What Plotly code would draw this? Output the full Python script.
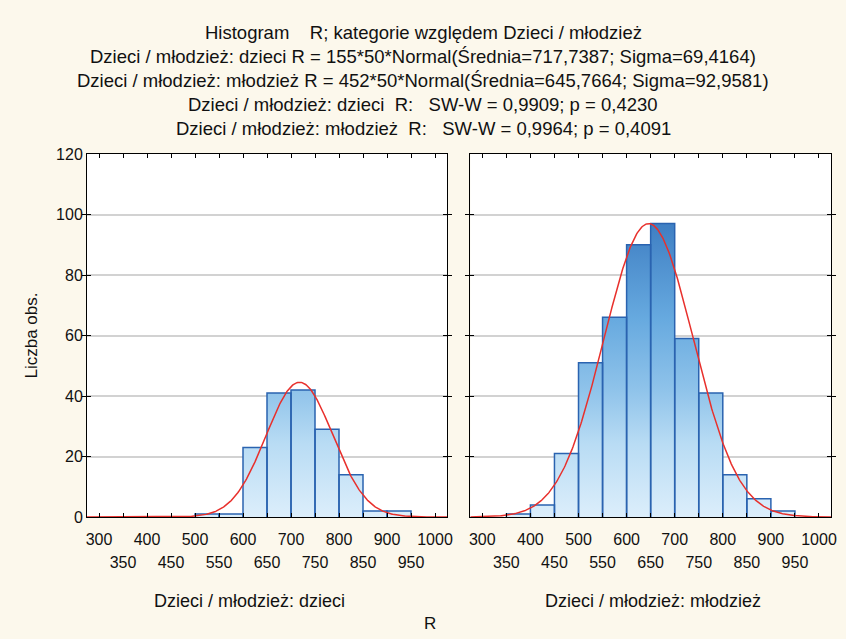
import numpy as np
import plotly.graph_objects as go

# ---------------- data ----------------
bin_width = 50
# left panel: Dzieci / młodzież: dzieci
dzieci_left_edges = [500, 550, 600, 650, 700, 750, 800, 850, 900]
dzieci_counts = [1, 1, 23, 41, 42, 29, 14, 2, 2]
dzieci_n, dzieci_mean, dzieci_sigma = 155, 717.7387, 69.4164

# right panel: Dzieci / młodzież: młodzież
mlodziez_left_edges = [350, 400, 450, 500, 550, 600, 650, 700, 750, 800, 850, 900]
mlodziez_counts = [1, 4, 21, 51, 66, 90, 97, 59, 41, 14, 6, 2]
mlodziez_n, mlodziez_mean, mlodziez_sigma = 452, 645.7664, 92.9581

x_ticks_row1 = [300, 400, 500, 600, 700, 800, 900, 1000]
x_ticks_row2 = [350, 450, 550, 650, 750, 850, 950]
y_ticks = [0, 20, 40, 60, 80, 100, 120]

title_lines = [
    "Histogram    R; kategorie względem Dzieci / młodzież",
    "Dzieci / młodzież: dzieci R = 155*50*Normal(Średnia=717,7387; Sigma=69,4164)",
    "Dzieci / młodzież: młodzież R = 452*50*Normal(Średnia=645,7664; Sigma=92,9581)",
    "Dzieci / młodzież: dzieci  R:   SW-W = 0,9909; p = 0,4230",
    "Dzieci / młodzież: młodzież  R:   SW-W = 0,9964; p = 0,4091",
]
panel_labels = ["Dzieci / młodzież: dzieci", "Dzieci / młodzież: młodzież"]
x_title = "R"
y_title = "Liczba obs."

# ---------------- style ----------------
W, H = 846, 639
FONT = "Liberation Sans, Arial, sans-serif"
BG = "#FCF8EC"
BAR_LINE = "#2A63B0"
CURVE = "#E8302C"
GRID = "#D2D2D2"
XR = [275, 1025]
YR = [0, 120]
gradient = [[0.0, "#DCEEFB"], [0.2, "#B9DCF4"], [0.35, "#8FC3EA"],
            [0.55, "#66A9DF"], [0.8, "#4080C4"], [1.0, "#2F6AB3"]]


def px_x(p):
    return p / W


def px_y(p):
    return 1 - p / H


fig = go.Figure()


def add_panel(xa, ya, edges, counts, n, mean, sigma):
    # gradient fill of the histogram outline
    xs = [edges[0]]
    ys = [0]
    for e, c in zip(edges, counts):
        xs += [e, e + bin_width]
        ys += [c, c]
    xs.append(edges[-1] + bin_width)
    ys.append(0)
    fig.add_trace(go.Scatter(
        x=xs, y=ys, mode="lines", fill="toself",
        fillgradient=dict(type="vertical", colorscale=gradient, start=0, stop=120),
        line=dict(width=0), xaxis=xa, yaxis=ya, showlegend=False, hoverinfo="skip"))
    # bar outlines (one rectangle per bin)
    ox, oy = [], []
    for e, c in zip(edges, counts):
        ox += [e, e, e + bin_width, e + bin_width, None]
        oy += [0, c, c, 0, None]
    fig.add_trace(go.Scatter(
        x=ox, y=oy, mode="lines", line=dict(color=BAR_LINE, width=1.5),
        xaxis=xa, yaxis=ya, showlegend=False, hoverinfo="skip"))
    # fitted normal curve from the stated parameters
    cx = np.linspace(XR[0], XR[1], 500)
    cy = n * bin_width / (sigma * np.sqrt(2 * np.pi)) * np.exp(-0.5 * ((cx - mean) / sigma) ** 2)
    fig.add_trace(go.Scatter(x=cx, y=cy, mode="lines", line=dict(color=CURVE, width=1.5),
                             xaxis=xa, yaxis=ya, showlegend=False))


add_panel("x", "y", dzieci_left_edges, dzieci_counts, dzieci_n, dzieci_mean, dzieci_sigma)
add_panel("x2", "y2", mlodziez_left_edges, mlodziez_counts, mlodziez_n, mlodziez_mean, mlodziez_sigma)
# dummy traces so the second-row label axes are drawn
fig.add_trace(go.Scatter(x=[None], y=[None], xaxis="x3", yaxis="y", showlegend=False))
fig.add_trace(go.Scatter(x=[None], y=[None], xaxis="x4", yaxis="y2", showlegend=False))

all_ticks = list(range(300, 1001, 50))
row1_text = [str(v) if v in x_ticks_row1 else "" for v in all_ticks]

dom_left = [px_x(87), px_x(447)]
dom_right = [px_x(470.3), px_x(831)]
dom_y = [px_y(517), px_y(154)]

tickfont = dict(family=FONT, size=16, color="#111")


def main_xaxis(dom, anchor):
    return dict(domain=dom, range=XR, anchor=anchor, tickmode="array",
                tickvals=all_ticks, ticktext=row1_text, ticks="inside", ticklen=4,
                tickcolor="black", tickwidth=1, showline=True, linecolor="black",
                linewidth=1, mirror="allticks", showgrid=False, zeroline=False,
                tickfont=tickfont, ticklabelstandoff=8, automargin=False)


def second_xaxis(over, anchor):
    return dict(overlaying=over, anchor=anchor, range=XR, side="bottom",
                tickmode="array", tickvals=x_ticks_row2,
                ticktext=[str(v) for v in x_ticks_row2], ticks="", showline=False,
                showgrid=False, zeroline=False, tickfont=tickfont, ticklabelstandoff=34,
                automargin=False)


def yaxis(anchor, labels):
    return dict(domain=dom_y, range=YR, anchor=anchor, tickmode="array", tickvals=y_ticks,
                ticks="inside", ticklen=4, tickcolor="black", showline=True,
                linecolor="black", linewidth=1, mirror="allticks", showgrid=True,
                gridcolor=GRID, gridwidth=1.5, zeroline=False,
                showticklabels=labels, tickfont=tickfont, automargin=False)


annotations = []
title_y = [33, 57, 80, 104, 128]
for t, yy in zip(title_lines, title_y):
    annotations.append(dict(text=t, x=0.5, y=px_y(yy), xref="paper", yref="paper",
                            showarrow=False, xanchor="center", yanchor="middle",
                            font=dict(family=FONT, size=18.5, color="#111")))
for t, xx in zip(panel_labels, [250, 653]):
    annotations.append(dict(text=t, x=px_x(xx), y=px_y(601), xref="paper", yref="paper",
                            showarrow=False, xanchor="center", yanchor="middle",
                            font=dict(family=FONT, size=18, color="#111")))
annotations.append(dict(text=x_title, x=px_x(430), y=px_y(623), xref="paper", yref="paper",
                        showarrow=False, xanchor="center", yanchor="middle",
                        font=dict(family=FONT, size=17, color="#111")))
annotations.append(dict(text=y_title, x=px_x(31), y=px_y(335.5), xref="paper", yref="paper",
                        showarrow=False, xanchor="center", yanchor="middle", textangle=-90,
                        font=dict(family=FONT, size=17, color="#111")))

fig.update_layout(
    width=W, height=H, margin=dict(l=0, r=0, t=0, b=0, autoexpand=False),
    paper_bgcolor=BG, plot_bgcolor="white", barmode="overlay", showlegend=False,
    font=dict(family=FONT, size=16, color="#111"),
    xaxis=main_xaxis(dom_left, "y"),
    xaxis2=main_xaxis(dom_right, "y2"),
    xaxis3=second_xaxis("x", "y"),
    xaxis4=second_xaxis("x2", "y2"),
    yaxis=yaxis("x", True),
    yaxis2=yaxis("x2", False),
    annotations=annotations,
)

fig.write_html("out.html", post_script="document.body.style.margin='0';document.body.style.overflow='hidden';")
